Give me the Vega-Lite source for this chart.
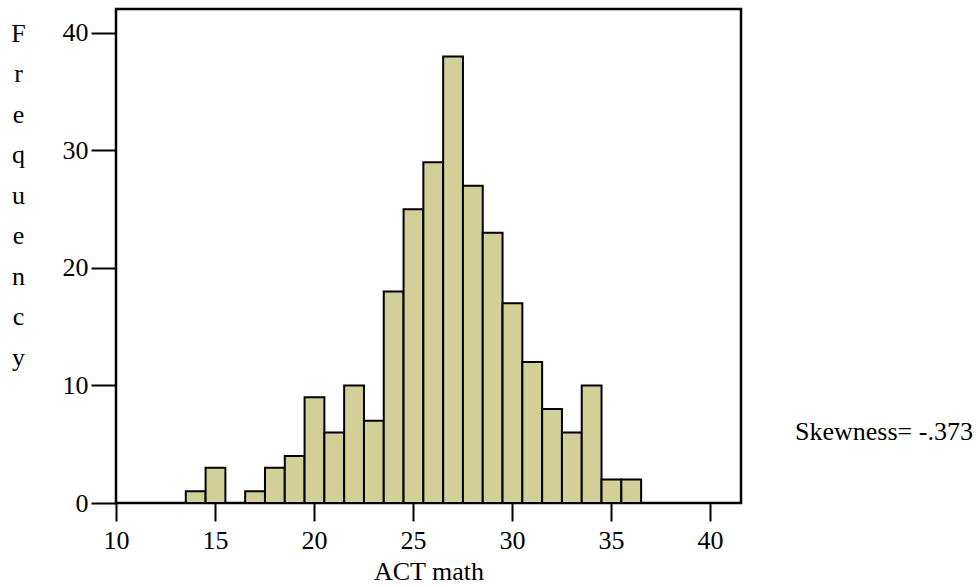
{
  "$schema": "https://vega.github.io/schema/vega-lite/v6.json",
  "width": 625,
  "height": 494,
  "autosize": {"type": "none"},
  "padding": {"left": 116, "top": 9, "right": 238, "bottom": 84},
  "background": "white",
  "config": {
    "font": "Liberation Serif",
    "view": {"stroke": "black", "strokeWidth": 2.5},
    "axis": {"labelFlush": false, "grid": false, "domain": false, "labelColor": "black", "titleColor": "black", "tickColor": "black", "tickWidth": 2}
  },
  "datasets": {
    "act": [
      {"score": 14, "freq": 1},
      {"score": 15, "freq": 3},
      {"score": 17, "freq": 1},
      {"score": 18, "freq": 3},
      {"score": 19, "freq": 4},
      {"score": 20, "freq": 9},
      {"score": 21, "freq": 6},
      {"score": 22, "freq": 10},
      {"score": 23, "freq": 7},
      {"score": 24, "freq": 18},
      {"score": 25, "freq": 25},
      {"score": 26, "freq": 29},
      {"score": 27, "freq": 38},
      {"score": 28, "freq": 27},
      {"score": 29, "freq": 23},
      {"score": 30, "freq": 17},
      {"score": 31, "freq": 12},
      {"score": 32, "freq": 8},
      {"score": 33, "freq": 6},
      {"score": 34, "freq": 10},
      {"score": 35, "freq": 2},
      {"score": 36, "freq": 2}
    ],
    "note": [{"label": "Skewness= -.373"}]
  },
  "layer": [
    {
      "data": {"name": "act"},
      "mark": {"type": "bar", "fill": "#D3CF98", "stroke": "black", "strokeWidth": 2, "binSpacing": 0},
      "encoding": {
        "x": {
          "field": "score",
          "type": "quantitative",
          "bin": {"extent": [13.5, 36.5], "step": 1, "nice": false},
          "scale": {"domain": [10, 41.57], "nice": false, "zero": false},
          "axis": {
            "values": [10, 15, 20, 25, 30, 35, 40],
            "tickSize": 18,
            "labelFontSize": 26,
            "labelPadding": 6,
            "title": "ACT math",
            "titleFontSize": 26,
            "titleFontWeight": "normal",
            "titlePadding": 5
          }
        },
        "y": {
          "field": "freq",
          "aggregate": "sum",
          "type": "quantitative",
          "scale": {"domain": [0, 42.04], "nice": false},
          "axis": {
            "values": [0, 10, 20, 30, 40],
            "tickSize": 25,
            "labelFontSize": 26,
            "labelPadding": 3,
            "title": ["F", "r", "e", "q", "u", "e", "n", "c", "y"],
            "titleAngle": 0,
            "titleFontSize": 26,
            "titleFontWeight": "normal",
            "titleLineHeight": 40.5,
            "titleAlign": "center",
            "titleBaseline": "alphabetic",
            "titleX": -98,
            "titleY": 32
          }
        }
      }
    },
    {
      "data": {"name": "note"},
      "mark": {"type": "text", "align": "left", "baseline": "middle", "fontSize": 26, "color": "black", "font": "Liberation Serif"},
      "encoding": {
        "x": {"datum": 44.3, "type": "quantitative"},
        "y": {"datum": 6.0, "type": "quantitative"},
        "text": {"field": "label"}
      }
    }
  ]
}
